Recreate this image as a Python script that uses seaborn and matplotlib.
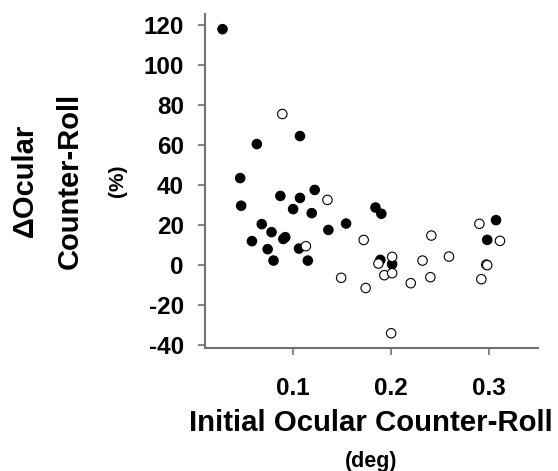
import matplotlib
matplotlib.use("Agg")
import matplotlib.pyplot as plt
import seaborn as sns
import pandas as pd

# filled circles
filled_x = [0.028, 0.107, 0.063, 0.046, 0.047, 0.087, 0.107, 0.122, 0.100, 0.119,
            0.068, 0.078, 0.136, 0.058, 0.090, 0.092, 0.074, 0.106, 0.080, 0.115,
            0.154, 0.184, 0.190, 0.189, 0.201, 0.307, 0.298]
filled_y = [118.0, 64.6, 60.6, 43.6, 29.8, 34.7, 33.7, 37.7, 28.1, 26.1,
            20.6, 16.6, 17.7, 12.1, 13.2, 14.1, 8.1, 8.4, 2.4, 2.4,
            20.9, 28.9, 25.8, 2.75, 0.6, 22.6, 12.75]

# open circles
open_x = [0.089, 0.135, 0.113, 0.149, 0.172, 0.174, 0.187, 0.201, 0.193, 0.201,
          0.200, 0.220, 0.232, 0.241, 0.240, 0.259, 0.290, 0.311, 0.297, 0.298,
          0.292]
open_y = [75.6, 32.7, 9.6, -6.2, 12.7, -11.3, 0.9, 4.25, -4.9, -3.9,
          -33.9, -8.9, 2.4, 14.9, -5.9, 4.4, 20.75, 12.25, 0.4, 0.1,
          -6.9]

y_ticks = [-40, -20, 0, 20, 40, 60, 80, 100, 120]
x_ticks = [0.1, 0.2, 0.3]

df = pd.DataFrame({
    "x": filled_x + open_x,
    "y": filled_y + open_y,
    "group": ["filled"] * len(filled_x) + ["open"] * len(open_x),
})

sns.set_style("white")
plt.rcParams["font.family"] = ["Liberation Sans", "DejaVu Sans"]
plt.rcParams["font.weight"] = "bold"
plt.rcParams["text.color"] = "black"
plt.rcParams["xtick.labelcolor"] = "black"
plt.rcParams["ytick.labelcolor"] = "black"

fig = plt.figure(figsize=(5.58, 4.71), dpi=100)
ax = fig.add_axes([0.367, 0.261, 0.597, 0.709])

sns.scatterplot(data=df, x="x", y="y", hue="group",
                palette={"filled": "black", "open": "white"},
                edgecolor="black", linewidth=0.8, s=46, legend=False, ax=ax)

ax.set_xlim(0.0099, 0.3497)
ax.set_ylim(-41.3, 125.5)
ax.set_xticks(x_ticks)
ax.set_yticks(y_ticks)
ax.set_xticklabels([f"{t:.1f}" for t in x_ticks])
ax.set_yticklabels([str(t) for t in y_ticks])
ax.set_xlabel("")
ax.set_ylabel("")

for side in ["top", "right"]:
    ax.spines[side].set_visible(False)
for side in ["left", "bottom"]:
    ax.spines[side].set_color("#707070")
    ax.spines[side].set_linewidth(1.5)

ax.tick_params(axis="y", direction="out", length=5, width=1.2, color="#707070",
               labelcolor="black", labelsize=17.5, pad=10, left=True)
ax.tick_params(axis="x", direction="out", length=5, width=1.2, color="#707070",
               labelcolor="black", labelsize=17.5, pad=16, bottom=True)
for lab in ax.get_xticklabels() + ax.get_yticklabels():
    lab.set_fontweight("bold")

fig.text(371 / 558, 1 - 423 / 471, "Initial Ocular Counter-Roll",
         ha="center", va="center", fontsize=21.2, fontweight="bold", color="black")
fig.text(371 / 558, 1 - 462 / 471, "(deg)",
         ha="center", va="center", fontsize=15.5, fontweight="bold", color="black")
fig.text(25 / 558, 1 - 180 / 471, "\u0394Ocular", rotation=90,
         ha="center", va="center", fontsize=21, fontweight="bold", color="black")
fig.text(70 / 558, 1 - 181 / 471, "Counter-Roll", rotation=90,
         ha="center", va="center", fontsize=21, fontweight="bold", color="black")
fig.text(117 / 558, 1 - 181 / 471, "(%)", rotation=90,
         ha="center", va="center", fontsize=15, fontweight="bold", color="black")

fig.savefig("out.png", dpi=100)
